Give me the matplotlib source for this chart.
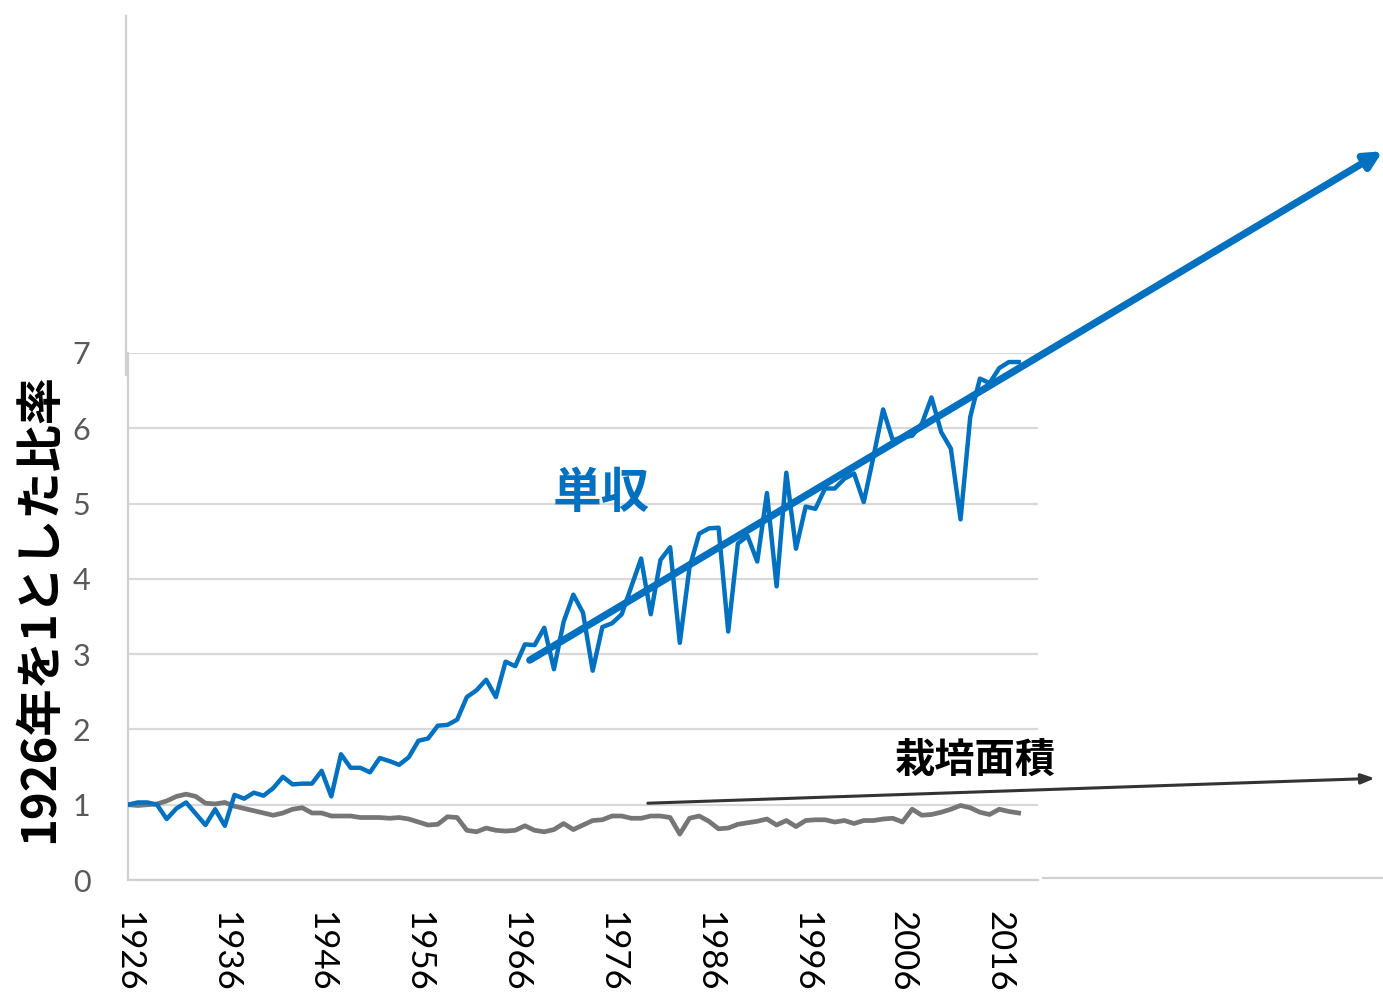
import matplotlib
matplotlib.use("Agg")
import matplotlib.pyplot as plt
from matplotlib.lines import Line2D
import numpy as np

years = np.arange(1926, 2019)

# yield per area, relative to 1926
yield_ratio = [
    1.00, 1.03, 1.03, 1.00, 0.81, 0.95, 1.03, 0.88, 0.73, 0.94,
    0.72, 1.13, 1.08, 1.16, 1.12, 1.22, 1.37, 1.27, 1.28, 1.28,
    1.45, 1.11, 1.67, 1.49, 1.49, 1.43, 1.62, 1.58, 1.53, 1.63,
    1.85, 1.88, 2.05, 2.06, 2.13, 2.43, 2.52, 2.66, 2.43, 2.90,
    2.84, 3.13, 3.12, 3.35, 2.80, 3.43, 3.79, 3.55, 2.78, 3.36,
    3.41, 3.53, 3.90, 4.27, 3.53, 4.25, 4.42, 3.15, 4.15, 4.60,
    4.67, 4.68, 3.30, 4.47, 4.57, 4.23, 5.14, 3.90, 5.41, 4.40,
    4.96, 4.93, 5.20, 5.20, 5.33, 5.40, 5.02, 5.62, 6.25, 5.84,
    5.88, 5.90, 6.06, 6.41, 5.95, 5.73, 4.79, 6.15, 6.66, 6.60,
    6.80, 6.88, 6.88,
]

# cultivated area, relative to 1926
area_ratio = [
    1.00, 0.99, 1.00, 1.01, 1.05, 1.11, 1.14, 1.11, 1.02, 1.01,
    1.03, 0.98, 0.95, 0.92, 0.89, 0.86, 0.89, 0.94, 0.96, 0.89,
    0.89, 0.85, 0.85, 0.85, 0.83, 0.83, 0.83, 0.82, 0.83, 0.81,
    0.77, 0.73, 0.74, 0.84, 0.83, 0.66, 0.64, 0.69, 0.66, 0.65,
    0.66, 0.72, 0.66, 0.64, 0.67, 0.75, 0.67, 0.73, 0.79, 0.80,
    0.85, 0.85, 0.82, 0.82, 0.85, 0.85, 0.83, 0.61, 0.82, 0.85,
    0.78, 0.68, 0.69, 0.74, 0.76, 0.78, 0.81, 0.73, 0.79, 0.71,
    0.79, 0.80, 0.80, 0.77, 0.79, 0.75, 0.79, 0.79, 0.81, 0.82,
    0.77, 0.94, 0.86, 0.87, 0.90, 0.94, 0.99, 0.96, 0.90, 0.87,
    0.94, 0.91, 0.89,
]

tick_years = list(range(1926, 2017, 10))
y_ticks = list(range(0, 8))

# trend arrows (start/end in data units)
yield_trend = [(1967.5, 2.92), (2055.6, 9.68)]
area_trend = [(1979.7, 1.02), (2054.8, 1.35)]

BLUE = "#0070C0"
GRAY = "#767676"
GRID = "#D9D9D9"
JP = ["Noto Sans CJK JP", "DejaVu Sans"]

W, H = 1383, 998
fig = plt.figure(figsize=(W / 100, H / 100), dpi=100)
ax = fig.add_axes([128 / W, 1 - 880 / H, 910 / W, 527 / H])

ax.plot(years, area_ratio, color=GRAY, lw=3.4, solid_joinstyle="round", zorder=3)
ax.plot(years, yield_ratio, color=BLUE, lw=3.2, solid_joinstyle="round", zorder=4)

ax.set_xlim(1926, 2020)
ax.set_ylim(0, 7)
ax.set_yticks(y_ticks)
ax.set_xticks(tick_years)
ax.set_xticklabels([str(y) for y in tick_years], rotation=270,
                   fontsize=25, family="Lato", color="black")
ax.set_yticklabels([str(v) for v in y_ticks], fontsize=22,
                   family="Lato", color="#595959")
ax.tick_params(axis="x", length=0, pad=22)
ax.tick_params(axis="y", length=0, pad=27)

ax.grid(axis="y", color=GRID, lw=1.6)
ax.set_axisbelow(True)
for side in ("top", "right"):
    ax.spines[side].set_visible(False)
for side in ("left", "bottom"):
    ax.spines[side].set_color("#D0D0D0")
    ax.spines[side].set_linewidth(1.6)

ax.set_ylabel("1926年を1とした比率", family=JP, fontsize=34,
              fontweight="bold", color="black")
ax.yaxis.set_label_coords(-0.071, 0.517)

ax.text(1974.9, 5.14, "単収", family=JP, fontsize=35, fontweight="bold",
        color=BLUE, ha="center", va="center")
ax.text(2013.5, 1.59, "栽培面積", family=JP, fontsize=29, fontweight="bold",
        color="black", ha="center", va="center")

ax.annotate("", xy=yield_trend[1], xytext=yield_trend[0],
            annotation_clip=False, zorder=5,
            arrowprops=dict(arrowstyle="-|>,head_length=1.0,head_width=0.5",
                            color=BLUE, lw=5.2, shrinkA=0, shrinkB=0))
ax.annotate("", xy=area_trend[1], xytext=area_trend[0],
            annotation_clip=False, zorder=5,
            arrowprops=dict(arrowstyle="-|>,head_length=0.8,head_width=0.3",
                            color="#333333", lw=2.2, shrinkA=0, shrinkB=0))

# outer frame lines of the enclosing chart area
fig.add_artist(Line2D([126 / W, 126 / W], [1 - 16 / H, 1 - 375 / H],
                      color="#D0D0D0", lw=1.6, transform=fig.transFigure))
fig.add_artist(Line2D([1043 / W, 1.0], [1 - 878 / H, 1 - 878 / H],
                      color="#D0D0D0", lw=1.6, transform=fig.transFigure))

fig.savefig("out.png", dpi=100, facecolor="white")
